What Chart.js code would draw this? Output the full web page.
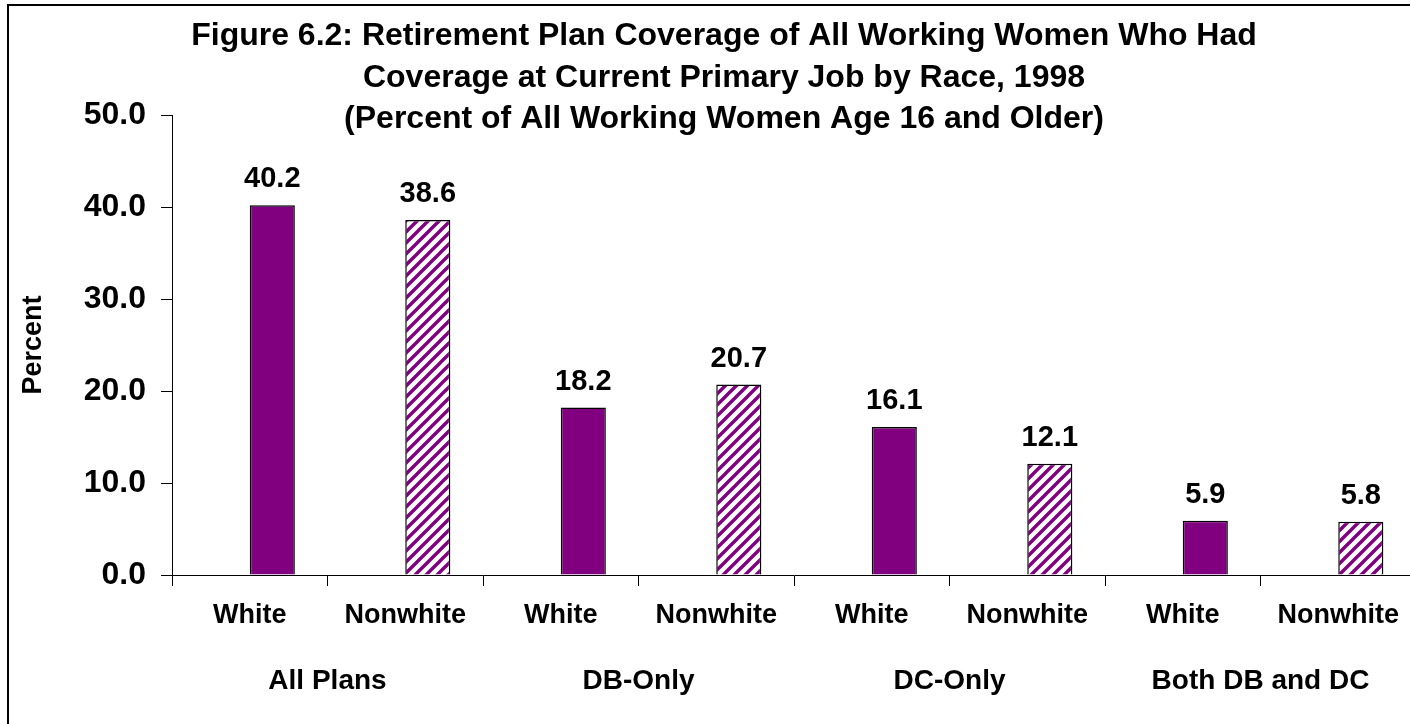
<!DOCTYPE html>
<html lang="en">
<head>
    <meta charset="UTF-8">
    <title>Figure 6.2</title>
    <script src="https://cdn.jsdelivr.net/npm/chart.js"></script>
    <style>
        body { margin: 0; background: #fff; overflow: hidden; }
        #wrap { width: 1410px; height: 724px; overflow: hidden; }
    </style>
</head>
<body>
    <div id="wrap"><canvas id="coverageChart" width="1440" height="740"></canvas></div>

    <script>
        const titleLines = [
            'Figure 6.2: Retirement Plan Coverage of All Working Women Who Had',
            'Coverage at Current Primary Job by Race, 1998',
            '(Percent of All Working Women Age 16 and Older)'
        ];
        const planTypes = ['All Plans', 'DB-Only', 'DC-Only', 'Both DB and DC'];
        const raceLabels = ['White', 'Nonwhite', 'White', 'Nonwhite', 'White', 'Nonwhite', 'White', 'Nonwhite'];
        const coverage = [40.2, 38.6, 18.2, 20.7, 16.1, 12.1, 5.9, 5.8];
        const yTicks = [0, 10, 20, 30, 40, 50];

        const FONT = 'Arial, "Liberation Sans", sans-serif';
        const PURPLE = '#800080';

        const canvas = document.getElementById('coverageChart');
        const ctx = canvas.getContext('2d');

        function makeHatch() {
            const s = 11;
            const c = document.createElement('canvas');
            c.width = s; c.height = s;
            const g = c.getContext('2d');
            g.fillStyle = '#fff';
            g.fillRect(0, 0, s, s);
            g.strokeStyle = PURPLE;
            g.lineWidth = 3.4;
            g.beginPath();
            g.moveTo(-2, s + 2); g.lineTo(s + 2, -2);
            g.moveTo(-2, 2); g.lineTo(2, -2);
            g.moveTo(s - 2, s + 2); g.lineTo(s + 2, s - 2);
            g.stroke();
            return ctx.createPattern(c, 'repeat');
        }
        const hatch = makeHatch();
        const barColors = raceLabels.map(r => r === 'White' ? PURPLE : hatch);

        // frame, title and value labels
        const extras = {
            id: 'extras',
            beforeDraw(chart) {
                const c = chart.ctx;
                c.save();
                c.fillStyle = '#fff';
                c.fillRect(0, 0, chart.width, chart.height);
                c.strokeStyle = '#000';
                c.lineWidth = 2;
                c.strokeRect(8, 5, chart.width, chart.height);
                c.restore();
            },
            afterDraw(chart) {
                const c = chart.ctx;
                c.save();
                c.fillStyle = '#000';
                c.textAlign = 'center';
                c.textBaseline = 'alphabetic';
                c.font = 'bold 32px ' + FONT;
                titleLines.forEach((t, i) => c.fillText(t, 724, 45 + i * 41.5));

                c.font = 'bold 29px ' + FONT;
                const meta = chart.getDatasetMeta(1);
                meta.data.forEach((bar, i) => {
                    c.fillText(coverage[i].toFixed(1), bar.x, bar.y - 18);
                });
                c.restore();
            }
        };

        new Chart(ctx, {
            type: 'bar',
            data: {
                labels: raceLabels,
                datasets: [{
                    label: 'spacer',
                    data: coverage.map(() => null)
                }, {
                    label: 'Coverage',
                    data: coverage,
                    backgroundColor: barColors,
                    borderColor: '#000',
                    borderWidth: 1.5
                }]
            },
            options: {
                responsive: false,
                animation: false,
                datasets: { bar: { categoryPercentage: 0.58, barPercentage: 1.0 } },
                layout: { padding: { top: 115, left: 0, right: 24, bottom: 0 } },
                plugins: {
                    legend: { display: false },
                    tooltip: { enabled: false },
                    title: { display: false }
                },
                scales: {
                    x: {
                        weight: 0,
                        offset: true,
                        grid: { offset: true, drawOnChartArea: false, tickLength: 11, color: '#000' },
                        border: { color: '#000', width: 1 },
                        ticks: {
                            color: '#000', padding: 13, maxRotation: 0, autoSkip: false,
                            font: { family: FONT, size: 27, weight: 'bold' }
                        },
                        afterFit(scale) { scale.height = 55; }
                    },
                    x2: {
                        type: 'category',
                        position: 'bottom',
                        weight: 1,
                        labels: planTypes,
                        offset: true,
                        grid: { display: false, drawTicks: false },
                        border: { display: false },
                        ticks: {
                            color: '#000', padding: 34, maxRotation: 0, autoSkip: false,
                            font: { family: FONT, size: 28, weight: 'bold' }
                        },
                        afterFit(scale) { scale.height = 110; }
                    },
                    y: {
                        min: 0,
                        max: 50,
                        afterBuildTicks(scale) { scale.ticks = yTicks.map(v => ({ value: v })); },
                        grid: { drawOnChartArea: false, tickLength: 11, color: '#000' },
                        border: { color: '#000', width: 1 },
                        ticks: {
                            color: '#000', padding: 15,
                            font: { family: FONT, size: 32, weight: 'bold' },
                            callback: v => Number(v).toFixed(1)
                        },
                        title: {
                            display: true,
                            text: 'Percent',
                            color: '#000',
                            padding: { top: 17, bottom: 0 },
                            font: { family: FONT, size: 27, weight: 'bold' }
                        },
                        afterFit(scale) { scale.width = 172; }
                    }
                }
            },
            plugins: [extras]
        });
    </script>
</body>
</html>
